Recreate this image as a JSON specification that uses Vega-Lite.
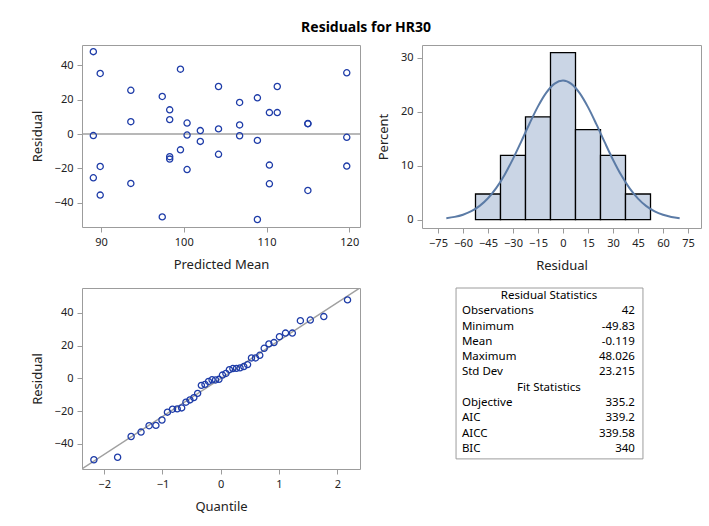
{
  "$schema": "https://vega.github.io/schema/vega-lite/v6.json",
  "title": {"text": "Residuals for HR30", "anchor": "middle", "fontSize": 14, "fontWeight": "bold", "font": "Noto Sans", "color": "#000000", "offset": 10},
  "padding": {"left": 30, "top": 20, "right": 5, "bottom": 5},
  "background": "white",
  "config": {
    "font": "Noto Sans",
    "view": {"stroke": "#9c9c9c", "strokeWidth": 1},
    "axis": {"grid": false, "domain": false, "tickColor": "#9c9c9c", "tickSize": 5, "labelFontSize": 11, "labelColor": "#222222", "titleFontSize": 13, "titleFontWeight": "normal", "titleColor": "#222222", "labelPadding": 4},
    "axisX": {"titlePadding": 11},
    "axisY": {"titlePadding": 10}
  },
  "datasets": {
    "fit": [
      {"pred": 108.9, "resid": -49.83, "quantile": -2.176},
      {"pred": 97.4, "resid": -48.3, "quantile": -1.769},
      {"pred": 89.9, "resid": -35.6, "quantile": -1.537},
      {"pred": 115.0, "resid": -32.9, "quantile": -1.367},
      {"pred": 110.35, "resid": -29.0, "quantile": -1.229},
      {"pred": 93.6, "resid": -28.8, "quantile": -1.112},
      {"pred": 89.07, "resid": -25.5, "quantile": -1.008},
      {"pred": 100.4, "resid": -20.7, "quantile": -0.914},
      {"pred": 89.9, "resid": -18.9, "quantile": -0.827},
      {"pred": 119.7, "resid": -18.7, "quantile": -0.746},
      {"pred": 110.35, "resid": -18.1, "quantile": -0.67},
      {"pred": 98.3, "resid": -14.6, "quantile": -0.597},
      {"pred": 98.3, "resid": -13.2, "quantile": -0.528},
      {"pred": 104.2, "resid": -11.8, "quantile": -0.461},
      {"pred": 99.6, "resid": -9.2, "quantile": -0.396},
      {"pred": 102.0, "resid": -4.3, "quantile": -0.332},
      {"pred": 108.9, "resid": -3.7, "quantile": -0.27},
      {"pred": 119.7, "resid": -1.9, "quantile": -0.209},
      {"pred": 89.07, "resid": -0.9, "quantile": -0.149},
      {"pred": 106.75, "resid": -1.0, "quantile": -0.089},
      {"pred": 100.4, "resid": -0.6, "quantile": -0.03},
      {"pred": 102.0, "resid": 2.0, "quantile": 0.03},
      {"pred": 104.2, "resid": 3.0, "quantile": 0.089},
      {"pred": 106.75, "resid": 5.3, "quantile": 0.149},
      {"pred": 115.0, "resid": 6.0, "quantile": 0.209},
      {"pred": 115.0, "resid": 6.1, "quantile": 0.27},
      {"pred": 100.4, "resid": 6.4, "quantile": 0.332},
      {"pred": 93.6, "resid": 7.2, "quantile": 0.396},
      {"pred": 98.3, "resid": 8.4, "quantile": 0.461},
      {"pred": 110.35, "resid": 12.5, "quantile": 0.528},
      {"pred": 111.3, "resid": 12.5, "quantile": 0.597},
      {"pred": 98.3, "resid": 14.1, "quantile": 0.67},
      {"pred": 106.75, "resid": 18.4, "quantile": 0.746},
      {"pred": 108.9, "resid": 21.1, "quantile": 0.827},
      {"pred": 97.4, "resid": 21.9, "quantile": 0.914},
      {"pred": 93.6, "resid": 25.5, "quantile": 1.008},
      {"pred": 104.2, "resid": 27.7, "quantile": 1.112},
      {"pred": 111.3, "resid": 27.7, "quantile": 1.229},
      {"pred": 89.9, "resid": 35.3, "quantile": 1.367},
      {"pred": 119.7, "resid": 35.7, "quantile": 1.537},
      {"pred": 99.6, "resid": 37.8, "quantile": 1.769},
      {"pred": 89.07, "resid": 48.026, "quantile": 2.176}
    ],
    "bins": [
      {"bin_start": -52.5, "bin_end": -37.5, "percent": 4.7619},
      {"bin_start": -37.5, "bin_end": -22.5, "percent": 11.9048},
      {"bin_start": -22.5, "bin_end": -7.5, "percent": 19.0476},
      {"bin_start": -7.5, "bin_end": 7.5, "percent": 30.9524},
      {"bin_start": 7.5, "bin_end": 22.5, "percent": 16.6667},
      {"bin_start": 22.5, "bin_end": 37.5, "percent": 11.9048},
      {"bin_start": 37.5, "bin_end": 52.5, "percent": 4.7619}
    ],
    "normal": [
      {"x": -70, "density": 0.278}, {"x": -65, "density": 0.519}, {"x": -60, "density": 0.926},
      {"x": -55, "density": 1.576}, {"x": -50, "density": 2.563}, {"x": -45, "density": 3.978},
      {"x": -40, "density": 5.895}, {"x": -35, "density": 8.339}, {"x": -30, "density": 11.26},
      {"x": -25, "density": 14.516}, {"x": -20, "density": 17.865}, {"x": -15, "density": 20.993},
      {"x": -10, "density": 23.547}, {"x": -5, "density": 25.216}, {"x": 0, "density": 25.78},
      {"x": 5, "density": 25.161}, {"x": 10, "density": 23.444}, {"x": 15, "density": 20.854},
      {"x": 20, "density": 17.708}, {"x": 25, "density": 14.357}, {"x": 30, "density": 11.111},
      {"x": 35, "density": 8.21}, {"x": 40, "density": 5.791}, {"x": 45, "density": 3.9},
      {"x": 50, "density": 2.507}, {"x": 55, "density": 1.539}, {"x": 60, "density": 0.902},
      {"x": 65, "density": 0.505}, {"x": 70, "density": 0.269}
    ],
    "refline": [
      {"quantile": -2.38, "resid": -55.37},
      {"quantile": 2.39, "resid": 55.36}
    ],
    "stats": [
      {"row": 1, "label": "Residual Statistics", "header": true},
      {"row": 2, "label": "Observations", "value": "42", "header": false},
      {"row": 3, "label": "Minimum", "value": "-49.83", "header": false},
      {"row": 4, "label": "Mean", "value": "-0.119", "header": false},
      {"row": 5, "label": "Maximum", "value": "48.026", "header": false},
      {"row": 6, "label": "Std Dev", "value": "23.215", "header": false},
      {"row": 7, "label": "Fit Statistics", "header": true},
      {"row": 8, "label": "Objective", "value": "335.2", "header": false},
      {"row": 9, "label": "AIC", "value": "339.2", "header": false},
      {"row": 10, "label": "AICC", "value": "339.58", "header": false},
      {"row": 11, "label": "BIC", "value": "340", "header": false}
    ]
  },
  "columns": 2,
  "bounds": "flush",
  "spacing": {"row": 60, "column": 62},
  "concat": [
    {
      "width": 278,
      "height": 182,
      "layer": [
        {
          "data": {"values": [{}]},
          "mark": {"type": "rule", "color": "#a0a0a0", "strokeWidth": 1.5},
          "encoding": {"y": {"datum": 0}}
        },
        {
          "data": {"name": "fit"},
          "mark": {"type": "point", "shape": "circle", "filled": false, "size": 38, "strokeWidth": 1.3, "color": "#1e3ca8", "opacity": 1},
          "encoding": {
            "x": {"field": "pred", "type": "quantitative", "scale": {"domain": [87.7, 121.3], "nice": false, "zero": false}, "axis": {"values": [90, 100, 110, 120], "title": "Predicted Mean"}},
            "y": {"field": "resid", "type": "quantitative", "scale": {"domain": [-54.2, 51.9], "nice": false, "zero": false}, "axis": {"values": [-40, -20, 0, 20, 40], "title": "Residual"}}
          }
        }
      ]
    },
    {
      "width": 279,
      "height": 183,
      "layer": [
        {
          "data": {"name": "bins"},
          "mark": {"type": "rect", "fill": "#cad5e5", "stroke": "#000000", "strokeWidth": 1.3},
          "encoding": {
            "x": {"field": "bin_start", "type": "quantitative", "scale": {"domain": [-84.6, 82.8], "nice": false, "zero": false}, "axis": {"values": [-75, -60, -45, -30, -15, 0, 15, 30, 45, 60, 75], "title": "Residual"}},
            "x2": {"field": "bin_end"},
            "y": {"field": "percent", "type": "quantitative", "scale": {"domain": [-1.54, 32.36], "nice": false, "zero": false}, "axis": {"values": [0, 10, 20, 30], "title": "Percent"}},
            "y2": {"datum": 0}
          }
        },
        {
          "data": {"name": "normal"},
          "mark": {"type": "line", "color": "#5b7ba6", "strokeWidth": 2, "interpolate": "monotone"},
          "encoding": {
            "x": {"field": "x", "type": "quantitative", "axis": {"values": [-75, -60, -45, -30, -15, 0, 15, 30, 45, 60, 75], "title": "Residual"}},
            "y": {"field": "density", "type": "quantitative", "axis": {"values": [0, 10, 20, 30], "title": "Percent"}}
          }
        }
      ]
    },
    {
      "width": 278,
      "height": 181,
      "layer": [
        {
          "data": {"name": "refline"},
          "mark": {"type": "line", "color": "#a0a0a0", "strokeWidth": 1.5, "clip": true},
          "encoding": {
            "x": {"field": "quantile", "type": "quantitative", "scale": {"domain": [-2.38, 2.39], "nice": false, "zero": false}, "axis": {"values": [-2, -1, 0, 1, 2], "title": "Quantile"}},
            "y": {"field": "resid", "type": "quantitative", "scale": {"domain": [-55.5, 55.3], "nice": false, "zero": false}, "axis": {"values": [-40, -20, 0, 20, 40], "title": "Residual"}}
          }
        },
        {
          "data": {"name": "fit"},
          "mark": {"type": "point", "shape": "circle", "filled": false, "size": 38, "strokeWidth": 1.3, "color": "#1e3ca8", "opacity": 1},
          "encoding": {
            "x": {"field": "quantile", "type": "quantitative", "axis": {"values": [-2, -1, 0, 1, 2], "title": "Quantile"}},
            "y": {"field": "resid", "type": "quantitative", "axis": {"values": [-40, -20, 0, 20, 40], "title": "Residual"}}
          }
        }
      ]
    },
    {
      "width": 279,
      "height": 181,
      "view": {"stroke": null},
      "layer": [
        {
          "data": {"values": [{}]},
          "mark": {"type": "rect", "fillOpacity": 0, "stroke": "#9c9c9c", "strokeWidth": 1},
          "encoding": {
            "x": {"datum": 0.122, "type": "quantitative", "scale": {"domain": [0, 1], "nice": false, "zero": false}, "axis": null},
            "x2": {"datum": 0.792},
            "y": {"datum": 0.477, "type": "quantitative", "scale": {"domain": [0.477, 12.31], "nice": false, "zero": false, "reverse": true}, "axis": null},
            "y2": {"datum": 11.65}
          }
        },
        {
          "data": {"name": "stats"},
          "transform": [{"filter": "datum.header"}],
          "mark": {"type": "text", "align": "center", "baseline": "middle", "fontSize": 11.5, "color": "#000000"},
          "encoding": {
            "x": {"datum": 0.455, "type": "quantitative"},
            "y": {"field": "row", "type": "quantitative"},
            "text": {"field": "label"}
          }
        },
        {
          "data": {"name": "stats"},
          "transform": [{"filter": "!datum.header"}],
          "mark": {"type": "text", "align": "left", "baseline": "middle", "fontSize": 11.5, "color": "#000000"},
          "encoding": {
            "x": {"datum": 0.143, "type": "quantitative"},
            "y": {"field": "row", "type": "quantitative"},
            "text": {"field": "label"}
          }
        },
        {
          "data": {"name": "stats"},
          "transform": [{"filter": "!datum.header"}],
          "mark": {"type": "text", "align": "right", "baseline": "middle", "fontSize": 11.5, "color": "#000000"},
          "encoding": {
            "x": {"datum": 0.763, "type": "quantitative"},
            "y": {"field": "row", "type": "quantitative"},
            "text": {"field": "value"}
          }
        }
      ]
    }
  ]
}
